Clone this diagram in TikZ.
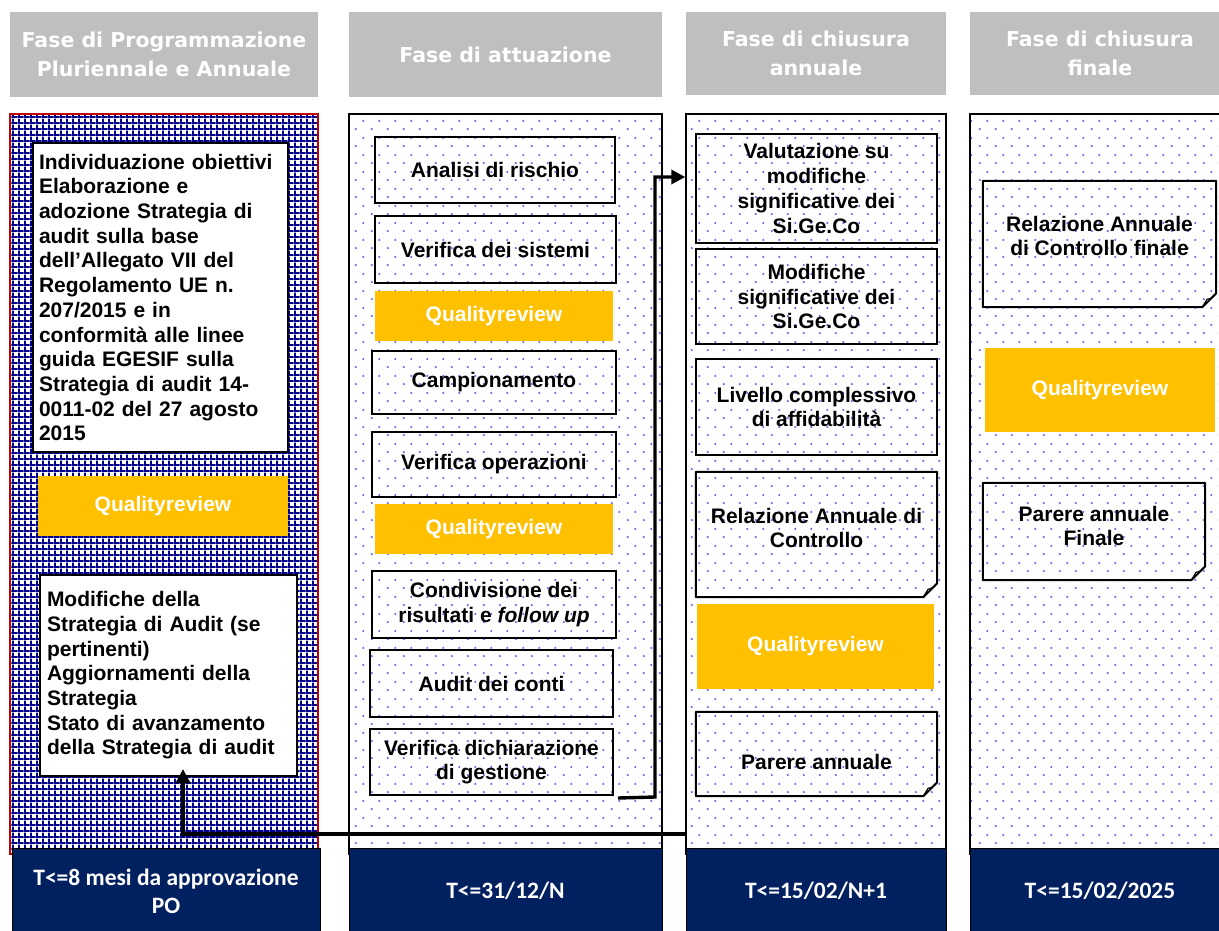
\documentclass[tikz,border=0pt]{standalone}
\usepackage{fontspec}
\setmainfont{Liberation Sans}
\newfontfamily\hdrfont{DejaVu Sans}
\newfontfamily\calfont{Carlito}
\usetikzlibrary{patterns,arrows.meta}
\definecolor{hdrgray}{RGB}{191,191,191}
\definecolor{navy}{RGB}{0,32,96}
\definecolor{qorange}{RGB}{255,192,0}
\definecolor{dotblue}{RGB}{100,100,240}
\definecolor{gridblue}{RGB}{0,0,140}
\definecolor{panelred}{RGB}{192,0,0}
\pgfdeclarepatternformonly{bluegrid}{\pgfpointorigin}{\pgfqpoint{6.2pt}{6.2pt}}{\pgfqpoint{6.2pt}{6.2pt}}{%
  \pgfpathrectangle{\pgfpointorigin}{\pgfqpoint{6.2pt}{2.1pt}}%
  \pgfpathrectangle{\pgfpointorigin}{\pgfqpoint{2.1pt}{6.2pt}}%
  \pgfusepath{fill}}
\pgfdeclarepatternformonly{bluedots}{\pgfpointorigin}{\pgfqpoint{16pt}{16.6pt}}{\pgfqpoint{16pt}{16.6pt}}{%
  \pgfpathcircle{\pgfqpoint{4pt}{4pt}}{1.2pt}%
  \pgfpathcircle{\pgfqpoint{12pt}{12.3pt}}{1.2pt}%
  \pgfusepath{fill}}
\newcommand{\foldnote}[1]{%
  \draw[line width=2pt, line join=round] (#1.north west) -- (#1.north east)
    -- ([yshift=14pt]#1.south east) -- ([xshift=-14pt]#1.south east)
    -- (#1.south west) -- cycle;
  \draw[line width=1.2pt, line join=round, fill=white] ([yshift=14pt]#1.south east)
    .. controls ([xshift=-4pt,yshift=9pt]#1.south east) .. ([xshift=-9pt,yshift=8pt]#1.south east)
    -- ([xshift=-14pt]#1.south east) -- cycle;}
\begin{document}
\begin{tikzpicture}[x=1pt,y=-1pt,
  sz/.style 2 args={minimum width=#1pt, minimum height=#2pt},
  txt/.style={font=\bfseries\fontsize{21}{24.7}\selectfont},
  hdr/.style={fill=hdrgray, text=white, font=\hdrfont\bfseries\fontsize{20.5}{29.5}\selectfont, align=center, inner sep=0pt},
  panel/.style={draw=black, line width=1.4pt, pattern=bluedots, pattern color=dotblue, inner sep=0pt},
  gridpanel/.style={draw=panelred, line width=1.4pt, pattern=bluegrid, pattern color=gridblue, inner sep=0pt},
  bar/.style={fill=navy, draw=black, line width=0.8pt, text=white, font=\calfont\bfseries\fontsize{23.5}{28}\selectfont, align=center, inner sep=0pt},
  box/.style={txt, draw=black, line width=2pt, align=center, inner sep=0pt},
  note/.style={inner sep=0pt},
  notetext/.style={txt, align=center, inner sep=0pt},
  wbox/.style={txt, draw=black, line width=2pt, fill=white, align=left, text width=243pt},
  qr/.style={txt, fill=qorange, text=white, inner sep=0pt},
  conn/.style={line width=3.4pt, -{Triangle[length=14pt,width=14pt]}}]
\useasboundingbox (0,0) rectangle (1219,930);
\clip (0,0) rectangle (1219,930);

% panels
\node[gridpanel, sz={308}{740}] (p1) at (164,484) {};
\node[panel, sz={313}{740}] (p2) at (505.5,484) {};
\node[panel, sz={260}{740}] (p3) at (816,484) {};
\node[panel, sz={260}{740}] (p4) at (1100,484) {};

% headers
\node[hdr, sz={308}{85}] (h1) at (164,54.5) {Fase di Programmazione\\Pluriennale e Annuale};
\node[hdr, sz={313}{85}] (h2) at (505.5,54.5) {Fase di attuazione};
\node[hdr, sz={260}{83}] (h3) at (816,53.5) {Fase di chiusura\\annuale};
\node[hdr, sz={260}{83}] (h4) at (1100,53.5) {Fase di chiusura\\finale};

% bottom bars
\node[bar, sz={308}{86}] (b1) at (166,891) {T<=8 mesi da approvazione\\PO};
\node[bar, sz={313}{86}] (b2) at (505.5,891) {T<=31/12/N};
\node[bar, sz={260}{86}] (b3) at (816,891) {T<=15/02/N+1};
\node[bar, sz={260}{86}] (b4) at (1100,891) {T<=15/02/2025};

% column 1
\node[wbox, sz={255}{309}, inner xsep=6pt, inner ysep=0pt] (bA) at (160.5,297.5) {Individuazione obiettivi\\
Elaborazione e\\
adozione Strategia di\\
audit sulla base\\
dell’Allegato VII del\\
Regolamento UE n.\\
207/2015 e in\\
conformità alle linee\\
guida EGESIF sulla\\
Strategia di audit 14-\\
0011-02 del 27 agosto\\
2015};
\node[qr, sz={250}{60}] (q1) at (163,506) {Qualityreview};
\node[wbox, sz={257}{201}, inner xsep=7pt, inner ysep=0pt] (bB) at (168.5,675.5) {Modifiche della\\
Strategia di Audit (se\\
pertinenti)\\
Aggiornamenti della\\
Strategia\\
Stato di avanzamento\\
della Strategia di audit};

% column 2
\node[box, sz={240}{66}] (a1) at (495,170) {Analisi di rischio};
\node[box, sz={241}{67}] (a2) at (495.5,249.5) {Verifica dei sistemi};
\node[qr, sz={238}{50}] (q2a) at (494,316) {Qualityreview};
\node[box, sz={244}{63}] (a3) at (494,382.5) {Campionamento};
\node[box, sz={244}{65}] (a4) at (494,464.5) {Verifica operazioni};
\node[qr, sz={238}{50}] (q2b) at (494,529) {Qualityreview};
\node[box, sz={244}{67}] (a5) at (494,604.5) {Condivisione dei\\risultati e \textit{follow up}};
\node[box, sz={243}{67}] (a6) at (491.5,683.5) {Audit dei conti};
\node[box, sz={243}{66}] (a7) at (491.5,762) {Verifica dichiarazione\\di gestione};

% column 3
\node[box, sz={241}{109}] (v1) at (816.5,188.5) {Valutazione su\\modifiche\\significative dei\\Si.Ge.Co};
\node[box, sz={241}{95}] (v2) at (816.5,296.5) {Modifiche\\significative dei\\Si.Ge.Co};
\node[box, sz={241}{96}] (v3) at (816.5,407) {Livello complessivo\\di affidabilità};
\node[note, sz={241}{125}] (v4) at (816.5,534.5) {};
\foldnote{v4}
\node[notetext] (v4t) at ([yshift=6.5pt]v4.center) {Relazione Annuale di\\Controllo};
\node[qr, sz={237}{85}] (q3) at (815.5,646.5) {Qualityreview};
\node[note, sz={241}{84}] (v5) at (816.5,754) {};
\foldnote{v5}
\node[notetext] (v5t) at ([yshift=-8pt]v5.center) {Parere annuale};

% column 4
\node[note, sz={233}{126}] (f1) at (1099.5,244) {};
\foldnote{f1}
\node[notetext] (f1t) at ([yshift=8pt]f1.center) {Relazione Annuale\\di Controllo finale};
\node[qr, sz={230}{84}] (q4) at (1100,390) {Qualityreview};
\node[note, sz={222}{97}] (f2) at (1094,531.5) {};
\foldnote{f2}
\node[notetext] (f2t) at ([yshift=5.5pt]f2.center) {Parere annuale\\Finale};

% connectors
\coordinate (j1) at (655,797);
\coordinate (t1) at (p3.west |- 0,177);
\draw[conn] ([xshift=4pt,yshift=-2pt]a7.south east) -- (j1) |- (t1);
\coordinate (s2) at (p3.west |- 0,834);
\coordinate (t2) at ([xshift=14.5pt,yshift=8pt]bB.south);
\draw[conn] (s2) -| (t2);
\end{tikzpicture}
\end{document}
